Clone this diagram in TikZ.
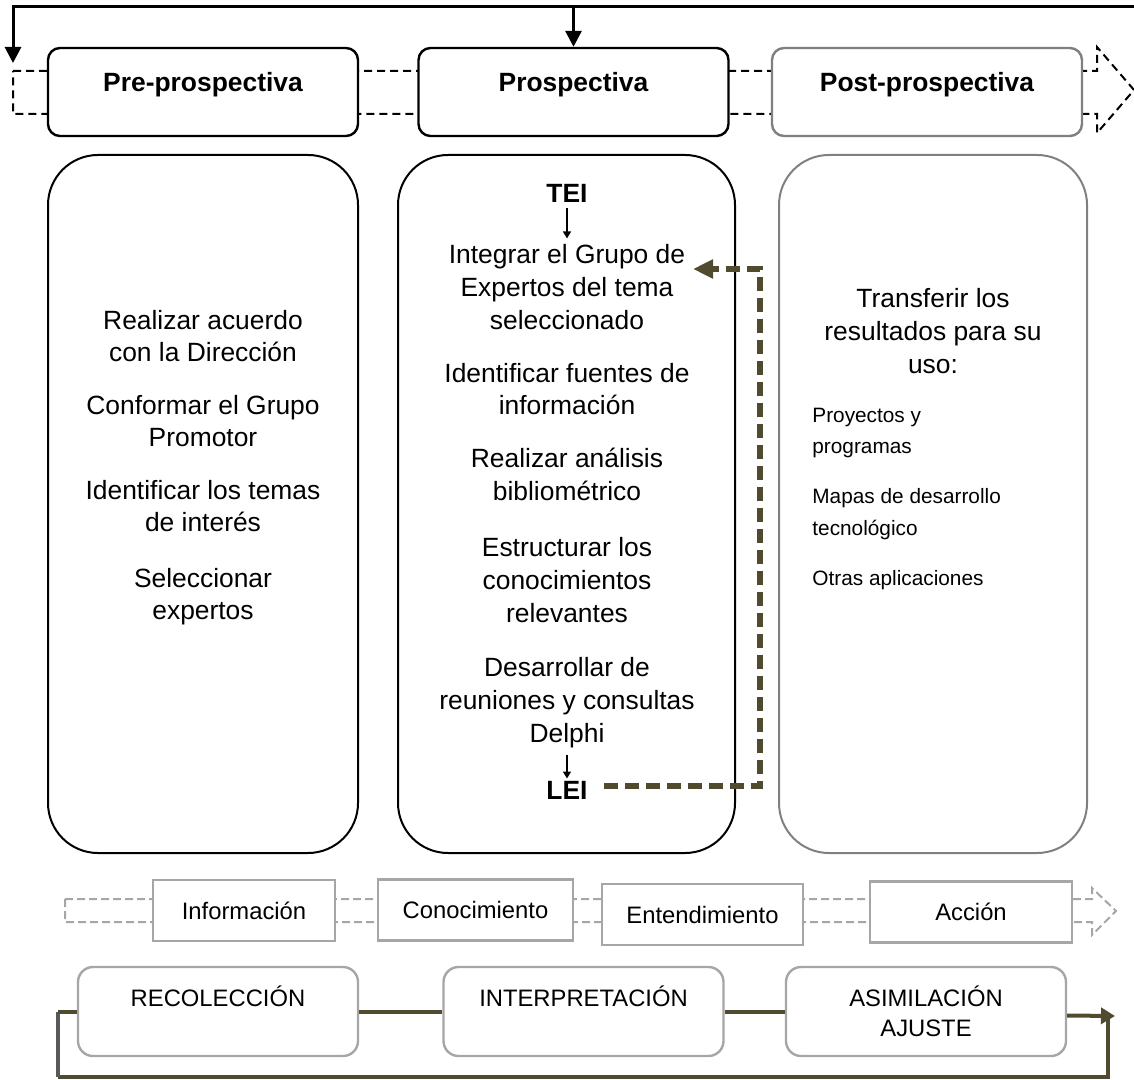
\documentclass[tikz,border=0pt]{standalone}
\usepackage{fontspec}
\setmainfont{Liberation Sans}
\usetikzlibrary{arrows.meta}
\definecolor{fbolive}{RGB}{80,75,47}
\definecolor{postgray}{RGB}{128,128,128}
\definecolor{bandgray}{RGB}{166,166,166}
\definecolor{leftgray}{RGB}{89,89,89}

\begin{document}
\begin{tikzpicture}[x=0.5pt,y=-0.5pt,
    phase/.style={draw,line width=1.2pt,rounded corners=6pt,fill=white,
      minimum width=155pt,minimum height=44pt,text height=10pt,text depth=10.6pt,
      font=\fontsize{13.2}{16.3}\selectfont\bfseries},
    stage/.style={draw,line width=1pt,rounded corners=25pt,minimum width=155pt,minimum height=349pt},
    txt/.style={align=center,inner sep=1pt,text depth=0pt,font=\fontsize{13.2}{16.3}\selectfont},
    hdr/.style={inner sep=1pt,font=\fontsize{13.2}{16.3}\selectfont\bfseries},
    item/.style={anchor=west,align=left,inner sep=0pt,text depth=0pt,font=\fontsize{10.4}{15.8}\selectfont},
    level/.style={draw=bandgray,line width=1.2pt,fill=white,minimum height=30.5pt,
      font=\fontsize{11.9}{15}\selectfont},
    cyc/.style={draw=bandgray,line width=1.2pt,rounded corners=7.5pt,align=center,
      minimum width=140pt,minimum height=44.5pt,font=\fontsize{11.9}{15}\selectfont},
    topline/.style={line width=1.5pt,-{Triangle[length=8pt,width=8pt]}},
    tiny arrow/.style={line width=0.8pt,-{Triangle[length=3.5pt,width=4pt]}},
    fb/.style={fbolive,line width=2.6pt,dash pattern=on 7pt off 3.5pt,-{Triangle[length=10pt,width=9pt]}},
    cycline/.style={fbolive,line width=2pt}]
  \useasboundingbox (0,0) rectangle (1134,1080);

  % phases
  \draw[line width=1pt,dash pattern=on 4pt off 2.5pt] (13,71) -- (1097,71) -- (1097,47) -- (1134,90)
     -- (1097,133) -- (1097,114) -- (13,114) -- cycle;
  \node[phase] (pre) at (203,92) {Pre-prospectiva};
  \node[phase] (pro) at (573.5,92) {Prospectiva};
  \node[phase,draw=postgray] (post) at (927,92) {Post-prospectiva};

  \coordinate (rtop) at (1134,7);
  \coordinate (ltip) at (13,63);
  \draw[topline] (rtop) -| (ltip);
  \draw[topline] (pro.north |- rtop) -- (pro.north);

  % big boxes
  \node[stage] (prebox) at (203,504) {};
  \node[stage,minimum width=168.5pt] (probox) at (566.5,504) {};
  \node[stage,draw=postgray,minimum width=154pt] (postbox) at (933,504) {};

  \node[txt] (acuerdo) at (203,336) {Realizar acuerdo\\con la Direcci\'on};
  \node[txt] (grupo) at (203,421) {Conformar el Grupo\\Promotor};
  \node[txt] (temas) at (203,506) {Identificar los temas\\de inter\'es};
  \node[txt] (selec) at (203,594) {Seleccionar\\expertos};

  \node[hdr] (tei) at (567,193) {TEI};
  \node[txt] (integ) at (567,287) {Integrar el Grupo de\\Expertos del tema\\seleccionado};
  \node[txt] (fuentes) at (567,389) {Identificar fuentes de\\informaci\'on};
  \node[txt] (biblio) at (567,474) {Realizar an\'alisis\\bibliom\'etrico};
  \node[txt] (estruc) at (567,580) {Estructurar los\\conocimientos\\relevantes};
  \node[txt] (delphi) at (567,700) {Desarrollar de\\reuniones y consultas\\Delphi};
  \node[hdr] (lei) at (567,790) {LEI};
  \draw[tiny arrow,shorten <=2pt,shorten >=2pt] (tei) -- (integ);
  \draw[tiny arrow,shorten <=5pt] (delphi) -- (lei);

  \coordinate (fbturn) at (760,269);
  \coordinate (fbtip) at (693,269);
  \draw[fb] ([xshift=7pt,yshift=2pt]lei.east) -| (fbturn) -- (fbtip);

  \node[txt] (transf) at (933,331) {Transferir los\\resultados para su\\uso:};
  \node[item] (proy) at (812,431) {Proyectos y\\programas};
  \node[item] (mapas) at (812,512) {Mapas de desarrollo\\tecnol\'ogico};
  \node[item] (otras) at (812,578) {Otras aplicaciones};

  % levels
  \draw[bandgray,line width=1pt,dash pattern=on 4pt off 2pt] (65,899) -- (1092,899) -- (1092,888)
     -- (1116,911) -- (1092,935) -- (1092,922) -- (65,922) -- cycle;
  \node[level,minimum width=91pt] (info) at (244,910.5) {Informaci\'on};
  \node[level,minimum width=97.5pt] (cono) at (475.5,910) {Conocimiento};
  \node[level,minimum width=100.5pt] (ente) at (702.5,914.5) {Entendimiento};
  \node[level,minimum width=101pt] (acci) at (971,912) {Acci\'on};

  % cycle
  \node[cyc] (reco) at (218,1011.5) {RECOLECCI\'ON\\\mbox{}};
  \node[cyc] (inte) at (583.5,1011.5) {INTERPRETACI\'ON\\\mbox{}};
  \node[cyc] (asim) at (926,1011.5) {ASIMILACI\'ON\\AJUSTE};
  \draw[cycline] (reco) -- (inte);
  \draw[cycline] (inte) -- (asim);

  \coordinate (cycend) at (1115,1016);
  \coordinate (loopr) at (1108,1016);
  \coordinate (lowr) at (1108,1077);
  \coordinate (lowl) at (58,1077);
  \draw[cycline,-{Triangle[length=7pt,width=8pt]}] ([yshift=-2pt]asim.east) -- (cycend);
  \draw[cycline] (loopr) -- (lowr) -- (lowl);
  \draw[cycline,leftgray] (lowl) -- (lowl |- reco.west);
  \draw[cycline] (lowl |- reco.west) -- (reco.west);
\end{tikzpicture}
\end{document}
